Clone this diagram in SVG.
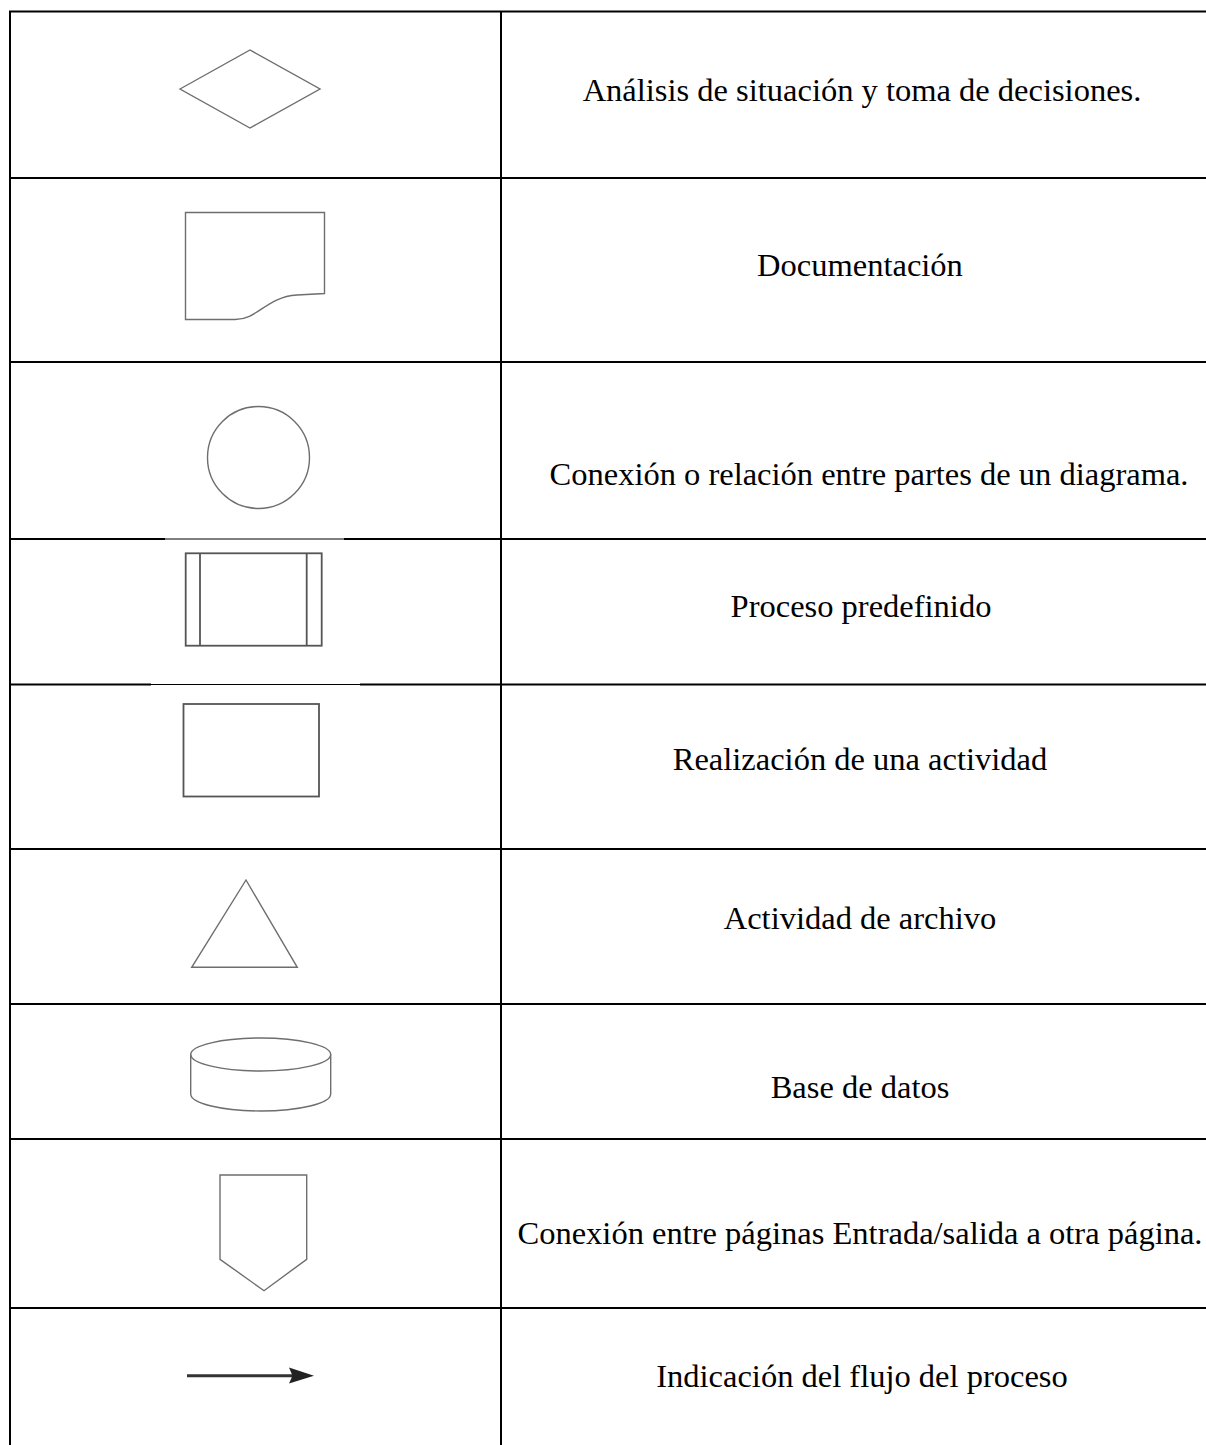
<svg xmlns="http://www.w3.org/2000/svg" width="1206" height="1445" viewBox="0 0 1206 1445">
<style>
.grid{stroke:#000;stroke-width:2;fill:none}
.thin{stroke:#000;stroke-width:1;fill:none}
.sym{stroke:#6e6e6e;stroke-width:1.4;fill:none}
.symd{stroke:#555;stroke-width:1.8;fill:none}
.lbl{font-family:"Liberation Serif","Times New Roman",serif;font-size:32.5px;fill:#000;text-anchor:middle}
</style>
<rect width="1206" height="1445" fill="#fff"/>
<g id="table">
<line class="grid" x1="9" y1="11.5" x2="1206" y2="11.5"/>
<line class="grid" x1="10" y1="11.5" x2="10" y2="1445"/>
<line class="grid" x1="501" y1="11.5" x2="501" y2="1445"/>
<line class="grid" x1="10" y1="178" x2="1206" y2="178"/>
<line class="grid" x1="10" y1="362" x2="1206" y2="362"/>
<line class="grid" x1="10" y1="539" x2="165" y2="539"/>
<line class="thin" x1="165" y1="539" x2="344" y2="539"/>
<line class="grid" x1="344" y1="539" x2="1206" y2="539"/>
<line class="grid" x1="10" y1="684.5" x2="151" y2="684.5"/>
<line class="thin" x1="151" y1="684.5" x2="360" y2="684.5"/>
<line class="grid" x1="360" y1="684.5" x2="1206" y2="684.5"/>
<line class="grid" x1="10" y1="849" x2="1206" y2="849"/>
<line class="grid" x1="10" y1="1004" x2="1206" y2="1004"/>
<line class="grid" x1="10" y1="1139" x2="1206" y2="1139"/>
<line class="grid" x1="10" y1="1308" x2="1206" y2="1308"/>
</g>
<g id="row-decision">
<polygon class="sym" points="180,89 250,50 320,89 250,128"/>
<text class="lbl" x="862" y="101">Análisis de situación y toma de decisiones.</text>
</g>
<g id="row-document">
<path class="sym" d="M185.5,212.5 H324.5 V293.5 L297,295 C266,297 258,319.5 235,319.5 H185.5 Z"/>
<text class="lbl" x="860" y="276">Documentación</text>
</g>
<g id="row-connector">
<circle class="sym" cx="258.5" cy="457.5" r="51"/>
<text class="lbl" x="869" y="485">Conexión o relación entre partes de un diagrama.</text>
</g>
<g id="row-predefined">
<rect class="symd" x="185.7" y="553.3" width="136" height="92.4"/>
<line class="symd" x1="200" y1="553.3" x2="200" y2="645.7"/>
<line class="symd" x1="306.7" y1="553.3" x2="306.7" y2="645.7"/>
<text class="lbl" x="861" y="617">Proceso predefinido</text>
</g>
<g id="row-activity">
<rect class="symd" x="183.5" y="704" width="135.5" height="92.5" stroke-width="2.2"/>
<text class="lbl" x="860" y="770">Realización de una actividad</text>
</g>
<g id="row-archive">
<polygon class="sym" points="246,880 297.3,967.3 191.7,967.3"/>
<text class="lbl" x="860" y="929">Actividad de archivo</text>
</g>
<g id="row-database">
<path class="sym" d="M190.7,1054.5 V1094 A70,17 0 0 0 330.7,1094 V1054.5"/>
<ellipse class="sym" cx="260.7" cy="1054.5" rx="70" ry="16.5"/>
<text class="lbl" x="860" y="1098">Base de datos</text>
</g>
<g id="row-offpage">
<polygon class="sym" points="220,1175 306.7,1175 306.7,1259.3 264,1290.7 220,1259.3"/>
<text class="lbl" x="860" y="1244">Conexión entre páginas Entrada/salida a otra página.</text>
</g>
<g id="row-flow">
<line x1="187" y1="1375.7" x2="296" y2="1375.7" stroke="#333" stroke-width="3"/>
<polygon points="289,1367.5 314,1375.7 289,1383.5 292.5,1375.7" fill="#222"/>
<text class="lbl" x="862" y="1387">Indicación del flujo del proceso</text>
</g>
<g id="connectors"></g>
</svg>
